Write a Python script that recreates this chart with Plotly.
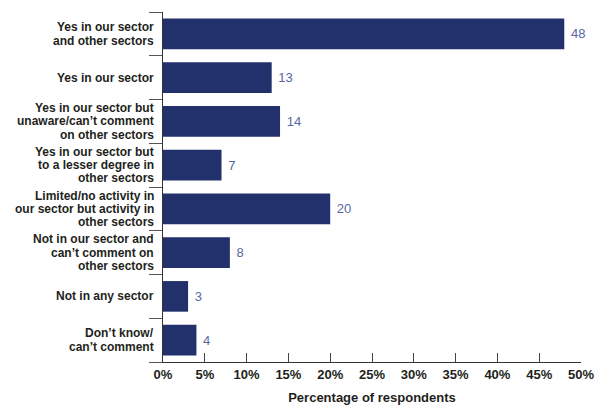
import plotly.graph_objects as go

categories = [
    "Yes in our sector<br>and other sectors",
    "Yes in our sector",
    "Yes in our sector but<br>unaware/can\u2019t comment<br>on other sectors",
    "Yes in our sector but<br>to a lesser degree in<br>other sectors",
    "Limited/no activity in<br>our sector but activity in<br>other sectors",
    "Not in our sector and<br>can\u2019t comment on<br>other sectors",
    "Not in any sector",
    "Don\u2019t know/<br>can\u2019t comment",
]
values = [48, 13, 14, 7, 20, 8, 3, 4]
x_ticks = [0, 5, 10, 15, 20, 25, 30, 35, 40, 45, 50]

BAR = "#22306b"
VALUE = "#5767a3"
TEXT = "#231f20"
FONT = "Liberation Sans, Arial, Helvetica, sans-serif"
LABEL_SIZE = 12
LINE_STEP = 13.3  # tight leading for the multi-line category labels

fig = go.Figure(
    go.Bar(
        x=values,
        y=categories,
        orientation="h",
        marker=dict(color=BAR, line=dict(width=0)),
        width=0.7,
        text=[str(v) for v in values],
        texttemplate=" %{text}",
        textposition="outside",
        textfont=dict(family=FONT, size=13, color=VALUE),
        cliponaxis=False,
        hoverinfo="skip",
    )
)

# Category labels, one annotation per line so the leading stays compact
annotations = []
for cat in categories:
    lines = cat.split("<br>")
    n = len(lines)
    for i, line in enumerate(lines):
        annotations.append(
            dict(
                x=0,
                xref="paper",
                y=cat,
                yref="y",
                text=f"<b>{line}</b>",
                showarrow=False,
                xanchor="right",
                yanchor="middle",
                xshift=-7,
                yshift=((n - 1) / 2 - i) * LINE_STEP,
                font=dict(family=FONT, size=LABEL_SIZE, color=TEXT),
            )
        )

fig.update_layout(
    width=595,
    height=405,
    margin=dict(l=163, r=14, t=12, b=43),
    paper_bgcolor="white",
    plot_bgcolor="white",
    showlegend=False,
    font=dict(family=FONT, color=TEXT),
    annotations=annotations,
    xaxis=dict(
        range=[0, 50],
        tickvals=x_ticks,
        ticktext=[f"<b>{v}%</b>" for v in x_ticks],
        ticks="inside",
        ticklen=9,
        tickwidth=1,
        tickcolor="#444444",
        showline=True,
        linecolor="#333333",
        linewidth=1,
        showgrid=False,
        zeroline=False,
        automargin=False,
        tickfont=dict(size=13, color=TEXT),
        title=dict(
            text="<b>Percentage of respondents</b>",
            font=dict(size=13, color=TEXT),
            standoff=17,
        ),
        fixedrange=True,
    ),
    yaxis=dict(
        autorange="reversed",
        tickvals=categories,
        showticklabels=False,
        tickson="boundaries",
        ticks="outside",
        ticklen=13,
        tickwidth=1,
        tickcolor="#555555",
        showline=True,
        linecolor="#333333",
        linewidth=1,
        showgrid=False,
        zeroline=False,
        automargin=False,
        fixedrange=True,
    ),
)

fig.write_html("out.html")
